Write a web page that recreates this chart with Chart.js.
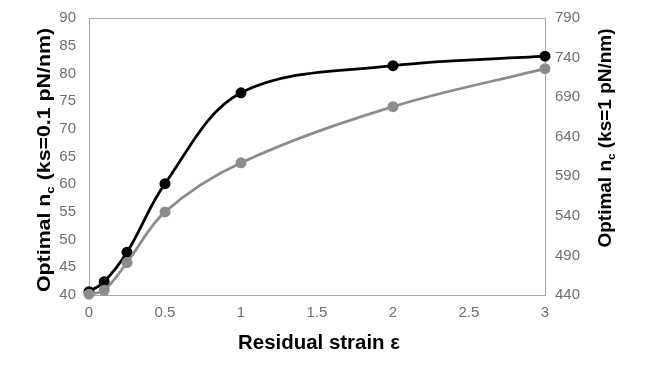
<!DOCTYPE html>
<html>
<head>
<meta charset="utf-8">
<script src="https://cdn.jsdelivr.net/npm/chart.js@4"></script>
<style>
html,body{margin:0;padding:0;background:#fff;}
#wrap{width:650px;height:366px;}
</style>
</head>
<body>
<div id="wrap"><canvas id="c" width="650" height="366"></canvas></div>
<script>
const strain = [0, 0.1, 0.25, 0.5, 1, 2, 3];
const ncKs01 = [40.6, 42.4, 47.7, 60.1, 76.5, 81.4, 83.1];
const ncKs1 = [441, 446, 481, 545, 607, 678, 726];
const xTicks = [0, 0.5, 1, 1.5, 2, 2.5, 3];
const leftTicks = [40, 45, 50, 55, 60, 65, 70, 75, 80, 85, 90];
const rightTicks = [440, 490, 540, 590, 640, 690, 740, 790];

const FONT = "'Liberation Sans', Arial, sans-serif";
const tickColor = '#6f6f6f';

function drawTitle(ctx, parts, cx, cy, rot, fontPx, targetLen) {
  ctx.save();
  ctx.translate(cx, cy);
  ctx.rotate(rot);
  ctx.fillStyle = '#000';
  ctx.textBaseline = 'alphabetic';
  let total = 0;
  const segs = parts.map(p => {
    const fs = p.sub ? fontPx * 0.62 : fontPx;
    ctx.font = 'bold ' + fs + 'px ' + FONT;
    const w = ctx.measureText(p.t).width;
    total += w;
    return {t: p.t, fs, w, sub: p.sub};
  });
  const sx = targetLen / total;
  ctx.scale(sx, 1);
  let x = -total / 2;
  const base = fontPx * 0.36;
  segs.forEach(s => {
    ctx.font = 'bold ' + s.fs + 'px ' + FONT;
    ctx.textAlign = 'left';
    ctx.fillText(s.t, x, base + (s.sub ? fontPx * 0.22 : 0));
    x += s.w;
  });
  ctx.restore();
}

const titlesPlugin = {
  id: 'titles',
  beforeDatasetsDraw(chart) {
    const ctx = chart.ctx;
    const a = chart.chartArea;
    ctx.save();
    ctx.strokeStyle = '#a6a6a6';
    ctx.lineWidth = 1;
    ctx.strokeRect(Math.round(a.left) + 0.5, Math.round(a.top) + 0.5, Math.round(a.right - a.left), Math.round(a.bottom - a.top));
    ctx.restore();
  },
  afterDraw(chart) {
    const ctx = chart.ctx;
    drawTitle(ctx, [{t: 'Optimal n'}, {t: 'c', sub: true}, {t: ' (ks=0.1 pN/nm)'}], 43, 160, -Math.PI / 2, 18.5, 264);
    drawTitle(ctx, [{t: 'Optimal n'}, {t: 'c', sub: true}, {t: ' (ks=1 pN/nm)'}], 604, 138, -Math.PI / 2, 18.5, 219);
    drawTitle(ctx, [{t: 'Residual strain ε'}], 319, 342, 0, 19.5, 162);
  }
};

new Chart(document.getElementById('c'), {
  type: 'line',
  data: {
    datasets: [
      {
        label: 'ks=1',
        data: strain.map((x, i) => ({x, y: ncKs1[i]})),
        yAxisID: 'y2',
        borderColor: '#8c8c8c',
        backgroundColor: '#8c8c8c',
        borderWidth: 2.75,
        pointRadius: 5.5,
        pointBorderWidth: 0,
        tension: 0.35,
        fill: false,
        clip: false
      },
      {
        label: 'ks=0.1',
        data: strain.map((x, i) => ({x, y: ncKs01[i]})),
        yAxisID: 'y',
        borderColor: '#000',
        backgroundColor: '#000',
        borderWidth: 2.75,
        pointRadius: 5.5,
        pointBorderWidth: 0,
        tension: 0.35,
        fill: false,
        clip: false
      }
    ]
  },
  options: {
    responsive: false,
    animation: false,
    devicePixelRatio: 1,
    layout: {padding: {top: 18, left: 0, right: 0, bottom: 0}},
    plugins: {legend: {display: false}, tooltip: {enabled: false}},
    scales: {
      x: {
        type: 'linear',
        min: 0, max: 3,
        grid: {display: false, drawTicks: false},
        border: {display: false},
        afterBuildTicks(s) { s.ticks = xTicks.map(v => ({value: v})); },
        afterFit(s) { s.height = 71; s.paddingLeft = 0; s.paddingRight = 0; },
        ticks: {color: tickColor, font: {family: FONT, size: 15}, padding: 9, maxRotation: 0, autoSkip: false,
          callback: v => String(v)}
      },
      y: {
        type: 'linear', position: 'left',
        min: 40, max: 90,
        grid: {display: false, drawTicks: false},
        border: {display: false},
        afterBuildTicks(s) { s.ticks = leftTicks.map(v => ({value: v})); },
        afterFit(s) { s.width = 89; s.paddingTop = 0; s.paddingBottom = 0; },
        ticks: {color: tickColor, font: {family: FONT, size: 15}, padding: 13, autoSkip: false}
      },
      y2: {
        type: 'linear', position: 'right',
        min: 440, max: 790,
        grid: {display: false, drawTicks: false},
        border: {display: false},
        afterBuildTicks(s) { s.ticks = rightTicks.map(v => ({value: v})); },
        afterFit(s) { s.width = 105; s.paddingTop = 0; s.paddingBottom = 0; },
        ticks: {color: tickColor, font: {family: FONT, size: 15}, padding: 10, autoSkip: false}
      }
    }
  },
  plugins: [titlesPlugin]
});
</script>
</body>
</html>
